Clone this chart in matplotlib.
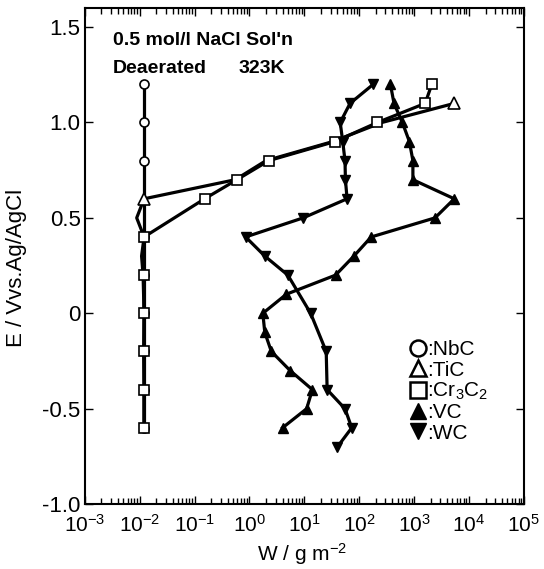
import numpy as np
import matplotlib
matplotlib.use('Agg')
import matplotlib.pyplot as plt
from matplotlib.lines import Line2D
from matplotlib.ticker import LogLocator, FixedLocator, FixedFormatter

plt.rcParams['font.family'] = ['Liberation Sans', 'DejaVu Sans']
plt.rcParams['mathtext.fontset'] = 'custom'
plt.rcParams['mathtext.rm'] = 'Liberation Sans'
plt.rcParams['mathtext.it'] = 'Liberation Sans:italic'
plt.rcParams['mathtext.bf'] = 'Liberation Sans:bold'
plt.rcParams['axes.unicode_minus'] = False

# potential E (V vs Ag/AgCl) and weight loss W (g/m2)
nbc_E = [1.2, 1.0, 0.8, 0.4, 0.2, 0.0, -0.2, -0.4, -0.6]
nbc_W = [0.012, 0.012, 0.012, 0.012, 0.012, 0.012, 0.012, 0.012, 0.012]

tic_E = [-0.6, -0.4, -0.2, 0.0, 0.2, 0.3, 0.4, 0.5, 0.6, 0.7, 0.8, 0.9, 1.0, 1.1]
tic_W = [0.012, 0.012, 0.0118, 0.012, 0.0115, 0.0108, 0.012, 0.0088, 0.012,
         0.55, 2.0, 33, 260, 5400]

cr_E = [-0.6, -0.4, -0.2, 0.0, 0.2, 0.4, 0.6, 0.7, 0.8, 0.9, 1.0, 1.1, 1.2]
cr_W = [0.012, 0.012, 0.012, 0.012, 0.012, 0.012, 0.152, 0.59, 2.25, 36, 215,
        1590, 2100]

vc_E = [-0.6, -0.5, -0.4, -0.3, -0.2, -0.1, 0.0, 0.1, 0.2, 0.3, 0.4, 0.5,
        0.6, 0.7, 0.8, 0.9, 1.0, 1.1, 1.2]
vc_W = [4.0, 11, 14, 5.5, 2.5, 1.9, 1.75, 4.7, 37, 80, 165, 2400, 5400,
        950, 950, 820, 610, 430, 370]

wc_E = [-0.7, -0.6, -0.5, -0.4, -0.2, 0.0, 0.2, 0.3, 0.4, 0.5, 0.6, 0.7,
        0.8, 0.9, 1.0, 1.1, 1.2]
wc_W = [40, 73, 55, 26, 25, 13, 5.0, 1.9, 0.85, 9.5, 60, 56, 55, 50, 45,
        68, 180]

yticks = [-1.0, -0.5, 0.0, 0.5, 1.0, 1.5]
ytick_labels = ['-1.0', '-0.5', '0', '0.5', '1.0', '1.5']

fig = plt.figure(figsize=(5.44, 5.69), dpi=100)
ax = fig.add_axes([0.156, 0.114, 0.807, 0.872])

lw = 2.3
ax.plot(nbc_W, nbc_E, '-', color='k', lw=lw, marker='o', ms=6.5,
        mfc='white', mec='k', mew=1.2)
ax.plot(tic_W, tic_E, '-', color='k', lw=lw, marker='^', ms=8,
        mfc='white', mec='k', mew=1.2, markevery=[8, 13])
ax.plot(cr_W, cr_E, '-', color='k', lw=lw, marker='s', ms=7,
        mfc='white', mec='k', mew=1.2)
ax.plot(vc_W, vc_E, '-', color='k', lw=lw, marker='^', ms=7.5, mfc='k', mec='k')
ax.plot(wc_W, wc_E, '-', color='k', lw=lw, marker='v', ms=7.5, mfc='k', mec='k')

ax.set_xscale('log')
ax.set_xlim(1e-3, 1e5)
ax.set_ylim(-1.0, 1.6)
ax.xaxis.set_major_locator(LogLocator(base=10, numticks=20))
ax.xaxis.set_minor_locator(LogLocator(base=10, subs=np.arange(2, 10), numticks=20))
ax.yaxis.set_major_locator(FixedLocator(yticks))
ax.yaxis.set_major_formatter(FixedFormatter(ytick_labels))
ax.tick_params(which='both', direction='in', top=True, right=True, width=1.0)
ax.tick_params(which='major', length=6)
ax.tick_params(which='minor', length=4)
ax.tick_params(axis='y', labelsize=16, pad=3)
ax.tick_params(axis='x', labelsize=15, pad=7)
for s in ax.spines.values():
    s.set_linewidth(1.5)

ax.set_xlabel('W / g m$^{-2}$', fontsize=15)
ax.set_ylabel('E / Vvs.Ag/AgCl', fontsize=16)
ax.xaxis.set_label_coords(0.495, -0.074)
ax.yaxis.set_label_coords(-0.132, 0.477)

ax.text(0.064, 0.925, "0.5 mol/l NaCl Sol'n", transform=ax.transAxes,
        fontsize=14, fontweight='bold')
ax.text(0.064, 0.868, 'Deaerated', transform=ax.transAxes,
        fontsize=14, fontweight='bold')
ax.text(0.349, 0.868, '323K', transform=ax.transAxes,
        fontsize=14, fontweight='bold')

handles = [
    Line2D([], [], ls='none', marker='o', ms=11.5, mfc='white', mec='k', mew=1.8),
    Line2D([], [], ls='none', marker='^', ms=11.5, mfc='white', mec='k', mew=1.8),
    Line2D([], [], ls='none', marker='s', ms=11, mfc='white', mec='k', mew=1.8),
    Line2D([], [], ls='none', marker='^', ms=11.5, mfc='k', mec='k'),
    Line2D([], [], ls='none', marker='v', ms=11.5, mfc='k', mec='k'),
]
labels = [':NbC', ':TiC', ':Cr$_3$C$_2$', ':VC', ':WC']
ax.legend(handles, labels, loc='upper left', bbox_to_anchor=(0.74, 0.33),
          frameon=False, fontsize=15, handlelength=0.8, handletextpad=0.05,
          labelspacing=0.06, borderpad=0, borderaxespad=0)

fig.savefig('out.png', dpi=100)
